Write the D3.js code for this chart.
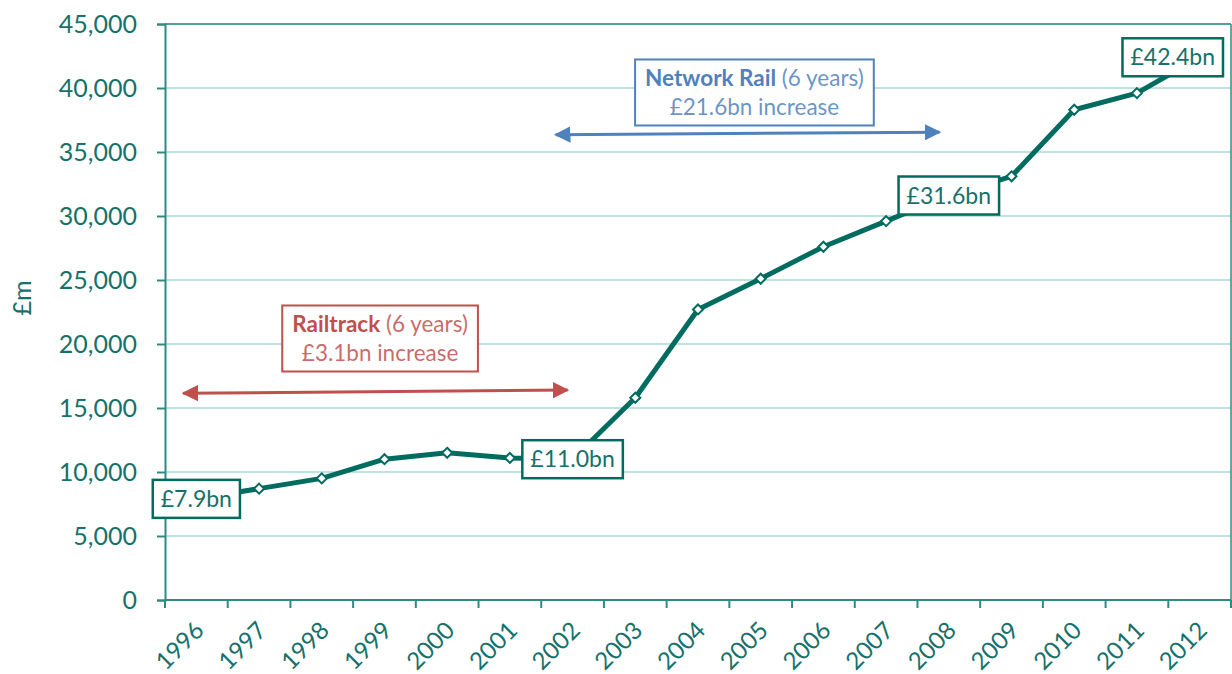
<!DOCTYPE html>
<html>
<head>
<meta charset="utf-8">
<title>Rail debt</title>
<script src="https://cdn.jsdelivr.net/npm/d3@7"></script>
<style>
  body { margin: 0; background: #fff; }
  text { font-family: Lato, "Open Sans", sans-serif; }
</style>
</head>
<body>
<div id="chart"></div>
<script>
// data (£m)
var years = ["1996","1997","1998","1999","2000","2001","2002","2003","2004",
             "2005","2006","2007","2008","2009","2010","2011","2012"];
var debt = [7900, 8700, 9500, 11000, 11500, 11100, 11000, 15800, 22700,
            25100, 27600, 29600, 31600, 33100, 38300, 39600, 42400];
var yTicks = [0, 5000, 10000, 15000, 20000, 25000, 30000, 35000, 40000, 45000];
// boxed value labels: year index, text
var callouts = [
    {i: 0, text: "£7.9bn"},
    {i: 6, text: "£11.0bn"},
    {i: 12, text: "£31.6bn"},
    {i: 16, text: "£42.4bn"}
];
// period arrows: start/end in year-index units, level in £m
var periods = [
    {name: "Railtrack", sub: "(6 years)", line2: "£3.1bn increase",
     from: -0.21, to: 5.92, level: [16150, 16400], color: "#c0504d",
     boxAt: 2.93, boxLevel: 20430},
    {name: "Network Rail", sub: "(6 years)", line2: "£21.6bn increase",
     from: 5.73, to: 11.85, level: [36350, 36550], color: "#4f81bd",
     boxAt: 8.9, boxLevel: 39650}
];

var margin = {top: 24, right: 1, bottom: 74, left: 165},
    width = 1232 - margin.left - margin.right,
    height = 674 - margin.top - margin.bottom;

var teal = "#006b5f", tealText = "#16716a", axisCol = "#2f8a83", gridCol = "#a9d8d2";

var x = d3.scaleBand().domain(years).range([0, width]).padding(0);
var y = d3.scaleLinear().domain([0, 45000]).range([height, 0]);
var bw = x.bandwidth();
function xi(i) { return (i + 0.5) * bw; }

var svg = d3.select("#chart").append("svg")
    .attr("width", 1232).attr("height", 674)
    .append("g")
    .attr("transform", "translate(" + margin.left + "," + margin.top + ")");

// gridlines
svg.append("g").selectAll("line").data(yTicks.slice(1)).join("line")
    .attr("x1", 0).attr("x2", width)
    .attr("y1", d => y(d)).attr("y2", d => y(d))
    .attr("stroke", gridCol).attr("stroke-width", 1.5);

// top and right border
svg.append("line").attr("x1", width).attr("x2", width).attr("y1", 0).attr("y2", height)
    .attr("stroke", axisCol).attr("stroke-width", 1.5);
svg.append("line").attr("x1", 0).attr("x2", width).attr("y1", 0).attr("y2", 0)
    .attr("stroke", axisCol).attr("stroke-width", 1.5);

// y axis
var yAxis = svg.append("g")
    .call(d3.axisLeft(y).tickValues(yTicks).tickSize(8).tickPadding(20)
        .tickFormat(d3.format(",")));
yAxis.select(".domain").attr("stroke", axisCol).attr("stroke-width", 2);
yAxis.selectAll(".tick line").attr("stroke", axisCol).attr("stroke-width", 2);
yAxis.selectAll("text").attr("fill", tealText).style("font-size", "25px");

// x axis: ticks at band boundaries, labels at band centres
var xAxis = svg.append("g").attr("transform", "translate(0," + height + ")");
xAxis.append("line").attr("x1", 0).attr("x2", width)
    .attr("stroke", axisCol).attr("stroke-width", 2);
xAxis.selectAll(".tk").data(d3.range(years.length + 1)).join("line")
    .attr("class", "tk")
    .attr("x1", d => d * bw).attr("x2", d => d * bw)
    .attr("y1", 0).attr("y2", 8)
    .attr("stroke", axisCol).attr("stroke-width", 2);
xAxis.selectAll("text").data(years).join("text")
    .attr("transform", d => "translate(" + (x(d) + bw / 2 - 3) + ",20) rotate(-45)")
    .attr("text-anchor", "end")
    .attr("dy", "0.7em")
    .attr("fill", tealText)
    .style("font-size", "24px")
    .text(d => d);

// y title
svg.append("text")
    .attr("transform", "translate(" + (-margin.left + 31) + "," + (height / 2 - 14) + ") rotate(-90)")
    .attr("text-anchor", "middle")
    .attr("fill", tealText)
    .style("font-size", "25px")
    .text("£m");

// period arrows and boxes
periods.forEach(function(p) {
    var g = svg.append("g");
    var id = "ah" + p.name.replace(/\s/g, "");
    g.append("defs").append("marker").attr("id", id)
        .attr("viewBox", "0 0 10 10").attr("refX", 9).attr("refY", 5)
        .attr("markerWidth", 5.5).attr("markerHeight", 5.5)
        .attr("orient", "auto-start-reverse")
        .append("path").attr("d", "M0,0 L10,5 L0,10 z").attr("fill", p.color);
    g.append("line")
        .attr("x1", xi(p.from)).attr("y1", y(p.level[0]))
        .attr("x2", xi(p.to)).attr("y2", y(p.level[1]))
        .attr("stroke", p.color).attr("stroke-width", 3)
        .attr("marker-start", "url(#" + id + ")")
        .attr("marker-end", "url(#" + id + ")");

    var bx = g.append("g").attr("transform", "translate(" + xi(p.boxAt) + "," + y(p.boxLevel) + ")");
    var rect = bx.append("rect").attr("fill", "#fff").attr("stroke", p.color).attr("stroke-width", 2);
    var t1 = bx.append("text").attr("text-anchor", "middle").attr("y", -6)
        .attr("fill", p.color).style("font-size", "22.5px");
    t1.append("tspan").attr("font-weight", "bold").text(p.name);
    t1.append("tspan").attr("fill-opacity", 0.85).text(" " + p.sub);
    bx.append("text").attr("text-anchor", "middle").attr("y", 23)
        .attr("fill", p.color).attr("fill-opacity", 0.85).style("font-size", "22.5px")
        .text(p.line2);
    var bb = bx.node().getBBox();
    rect.attr("x", bb.x - 10).attr("y", -33).attr("width", bb.width + 20).attr("height", 66);
});

// the series
var line = d3.line()
    .x((d, i) => xi(i))
    .y(d => y(d));

svg.append("path")
    .datum(debt)
    .attr("fill", "none")
    .attr("stroke", teal)
    .attr("stroke-width", 5)
    .attr("stroke-linejoin", "round")
    .attr("d", line);

var size = 5;
svg.append("g").selectAll("path").data(debt).join("path")
    .attr("transform", (d, i) => "translate(" + xi(i) + "," + y(d) + ")")
    .attr("d", "M0," + (-size) + " L" + size + ",0 L0," + size + " L" + (-size) + ",0 Z")
    .attr("fill", "#fff")
    .attr("stroke", teal)
    .attr("stroke-width", 2);

// boxed value labels
callouts.forEach(function(c) {
    var cx = xi(c.i), cy = y(debt[c.i]);
    var g = svg.append("g");
    var rect = g.append("rect").attr("fill", "#fff").attr("stroke", teal).attr("stroke-width", 2.5);
    var t = g.append("text").attr("text-anchor", "middle").attr("dy", "0.35em")
        .attr("fill", tealText).style("font-size", "23px").text(c.text);
    var w = t.node().getBBox().width + 16;
    // keep the last box inside the plot
    if (cx + w / 2 > width - 8) cx = width - 8 - w / 2;
    t.attr("x", cx).attr("y", cy);
    rect.attr("x", cx - w / 2).attr("y", cy - 19).attr("width", w).attr("height", 38);
});
</script>
</body>
</html>
